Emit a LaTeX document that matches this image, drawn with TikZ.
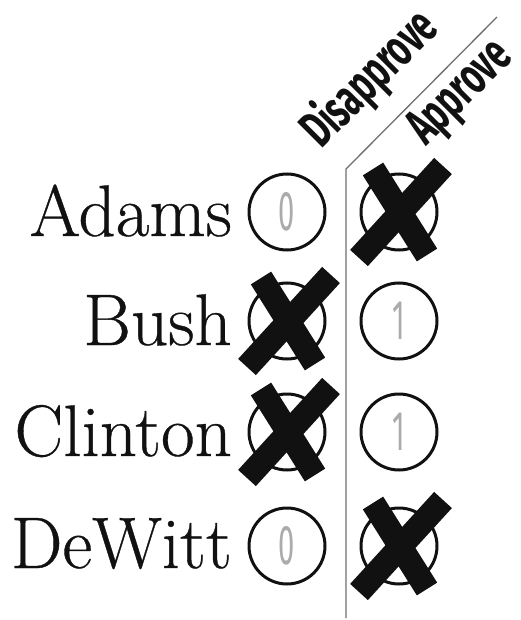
\documentclass[tikz,border=0pt]{standalone}
\usepackage{fontspec}
\usepackage{tikz}
\usetikzlibrary{positioning}
\setmainfont[FakeBold=0.5]{Latin Modern Roman}
\newfontfamily\headfont[FakeStretch=0.63]{Fira Sans Bold}
\newfontfamily\digitfont[FakeStretch=0.52]{Fira Sans}
\definecolor{ballotink}{HTML}{111111}
\definecolor{ballotgray}{HTML}{ABABAB}
\definecolor{ruleline}{HTML}{6E6E6E}

\begin{document}
\begin{tikzpicture}[
  x=1pt,y=-1pt,
  voter/.style={anchor=base east,inner sep=0pt,font=\fontsize{73}{76}\selectfont,text=ballotink},
  colhead/.style={anchor=base west,inner sep=0pt,rotate=45,
               font=\headfont\fontsize{52}{56}\selectfont,text=ballotink},
  bubble/.style={circle,draw=ballotink,line width=3pt,minimum size=76pt,inner sep=0pt,
                 font=\digitfont\fontsize{56}{56}\selectfont,text=ballotgray},
  vote/.pic={
    \draw[ballotink,line width=24pt] (-26,-43) -- (28,43);
    \draw[ballotink,line width=24pt] (-40,46) -- (44,-46);
  }
]
\useasboundingbox (0,0) rectangle (521,620);

% column heads
\node[colhead] (disapprove) at (321,150) {Disapprove};
\node[colhead] (approve) at (426,147) {Approve};

% divider
\coordinate (divtop) at (497,17);
\coordinate (divbend) at (346,169);
\coordinate (divfoot) at (346,618);
\draw[ruleline,line width=1.3pt] (divtop) -- (divbend) -- (divfoot);

% names
\node[voter] (adams) at (232,236) {Adams};
\node[voter] (bush) at (232,345) {Bush};
\node[voter] (clinton) at (232,456) {Clinton};
\node[voter] (dewitt) at (232,568) {DeWitt};

% ballot bubbles
\node[bubble] (adamsno) at (287,212) {0};
\node[bubble] (adamsyes) at (399,212) {};
\node[bubble] (bushno) at (287,321) {};
\node[bubble] (bushyes) at (399,321) {1};
\node[bubble] (clintonno) at (287,432) {};
\node[bubble] (clintonyes) at (399,432) {1};
\node[bubble] (dewittno) at (287,546) {0};
\node[bubble] (dewittyes) at (399,546) {};

% marks
\pic at (adamsyes) {vote};
\pic at (bushno) {vote};
\pic at (clintonno) {vote};
\pic at (dewittyes) {vote};
\end{tikzpicture}
\end{document}
